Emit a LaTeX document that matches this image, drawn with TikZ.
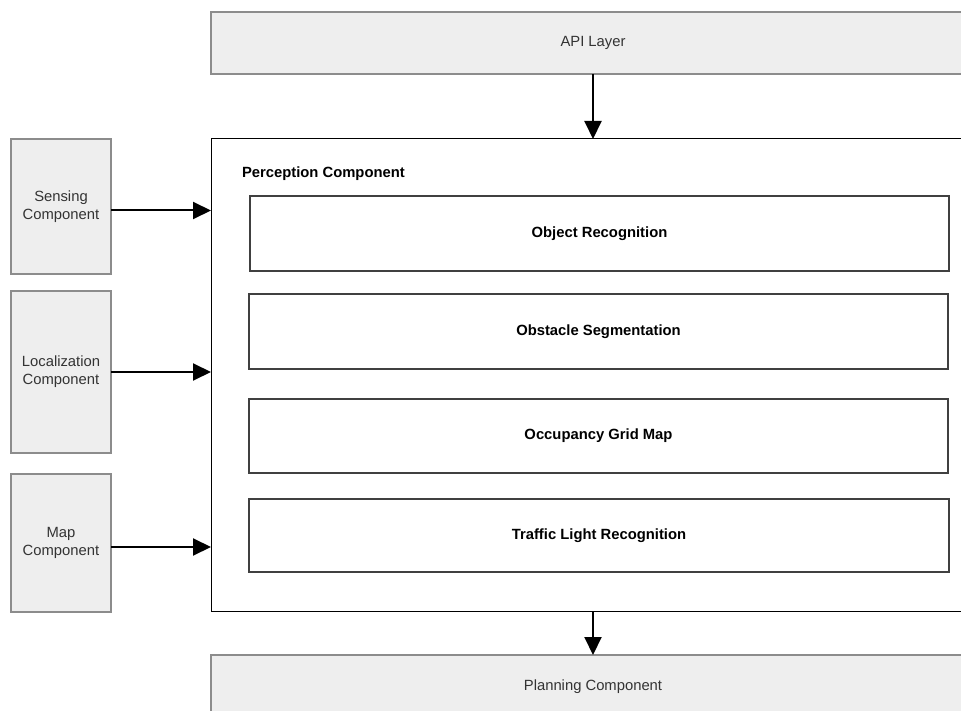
\documentclass[tikz,border=0pt]{standalone}
\usepackage{fontspec}
\setmainfont{Liberation Sans}
\usetikzlibrary{arrows.meta}

\definecolor{layerfill}{HTML}{EEEEEE}
\definecolor{layerline}{HTML}{8C8C8C}
\definecolor{subline}{HTML}{404040}
\definecolor{labeltext}{HTML}{333333}

\tikzset{
  every node/.style={inner sep=0pt, outer sep=0pt},
  greybox/.style={draw=layerline, fill=layerfill, line width=1.3pt, anchor=north west,
    text=labeltext, align=center, font=\fontsize{14.8}{18}\selectfont},
  mainbox/.style={draw=black, fill=white, line width=1pt, anchor=north west},
  subbox/.style={draw=subline, fill=white, line width=1.2pt, anchor=north west,
    font=\fontsize{14.8}{18}\selectfont\bfseries, text=black},
  flow/.style={line width=2pt, -{Triangle[length=18pt,width=17pt]}},
}

\begin{document}
\begin{tikzpicture}[x=1pt, y=-1pt]
  \useasboundingbox (0,0) rectangle (961,711);
  \clip (0,0) rectangle (961,711);

  % layers above and below
  \node[greybox, minimum width=764pt, minimum height=62pt] (api) at (211,12) {API Layer};
  \node[greybox, minimum width=764pt, minimum height=64pt] (plan) at (211,655) {Planning Component};

  % perception container and its modules
  \node[mainbox, minimum width=764pt, minimum height=472pt] (perc) at (211,139) {};
  \node[anchor=west, font=\fontsize{14.8}{18}\selectfont\bfseries] (ptitle) at (242,174) {Perception Component};

  \node[subbox, minimum width=699pt, minimum height=75pt] (objrec) at (250,196) {Object Recognition};
  \node[subbox, minimum width=699pt, minimum height=75pt] (obstseg) at (249,294) {Obstacle Segmentation};
  \node[subbox, minimum width=699pt, minimum height=74pt] (occgrid) at (249,399) {Occupancy Grid Map};
  \node[subbox, minimum width=700pt, minimum height=73pt] (tlr) at (249,499) {Traffic Light Recognition};

  % input components
  \node[greybox, minimum width=100pt, minimum height=135pt] (sens) at (11,139) {Sensing\\Component};
  \node[greybox, minimum width=100pt, minimum height=162pt] (loc) at (11,291) {Localization\\Component};
  \node[greybox, minimum width=100pt, minimum height=138pt] (map) at (11,474) {Map\\Component};

  % data flow
  \draw[flow] (api.south) -- (perc.north);
  \draw[flow] (perc.south) -- (plan.north);
  \draw[flow] ([yshift=-4pt]sens.east) -- ([yshift=-4pt]sens.east -| perc.west);
  \draw[flow] (loc.east) -- (loc.east -| perc.west);
  \draw[flow] ([yshift=-4pt]map.east) -- ([yshift=-4pt]map.east -| perc.west);
\end{tikzpicture}
\end{document}
